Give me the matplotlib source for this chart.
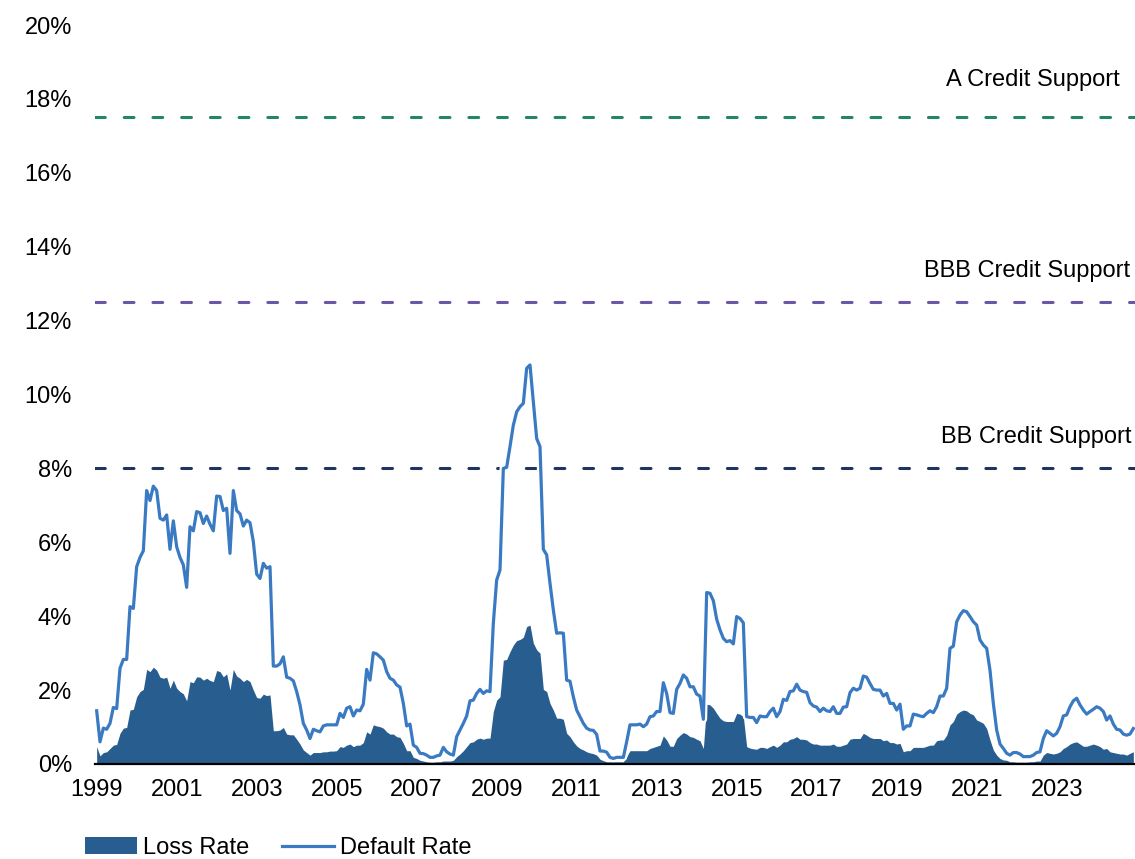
import numpy as np
import matplotlib
matplotlib.use('Agg')
import matplotlib.pyplot as plt
import matplotlib.patheffects as pe

plt.rcParams['font.family'] = ['Liberation Sans', 'DejaVu Sans']

# DATA #

# monthly rates in %, Jan 1999 .. Dec 2024, one row per year
DefaultRate = [
    1.44, 0.60, 0.97, 0.94, 1.10, 1.53, 1.50, 2.59, 2.83, 2.83, 4.26, 4.21,
    5.34, 5.59, 5.77, 7.40, 7.13, 7.52, 7.40, 6.65, 6.60, 6.74, 5.81, 6.58,
    5.88, 5.59, 5.39, 4.78, 6.42, 6.31, 6.83, 6.80, 6.51, 6.71, 6.49, 6.31,
    7.25, 7.24, 6.86, 6.92, 5.70, 7.40, 6.86, 6.77, 6.44, 6.60, 6.53, 6.02,
    5.14, 5.02, 5.43, 5.30, 5.34, 2.65, 2.65, 2.71, 2.90, 2.35, 2.32, 2.25,
    1.96, 1.60, 1.10, 0.92, 0.69, 0.94, 0.90, 0.87, 1.03, 1.06, 1.06, 1.06,
    1.06, 1.37, 1.26, 1.51, 1.55, 1.30, 1.46, 1.44, 1.62, 2.56, 2.27, 3.01,
    2.98, 2.90, 2.81, 2.50, 2.32, 2.27, 2.14, 2.08, 1.64, 1.03, 1.08, 0.51,
    0.45, 0.29, 0.28, 0.24, 0.18, 0.18, 0.22, 0.24, 0.45, 0.33, 0.27, 0.24,
    0.74, 0.92, 1.10, 1.30, 1.71, 1.73, 1.91, 2.02, 1.91, 1.98, 1.96, 3.81,
    4.98, 5.25, 8.00, 8.03, 8.59, 9.17, 9.53, 9.67, 9.76, 10.71, 10.80, 9.81,
    8.81, 8.59, 5.81, 5.66, 4.89, 4.17, 3.54, 3.55, 3.54, 2.27, 2.24, 1.82,
    1.46, 1.28, 1.10, 0.97, 0.92, 0.91, 0.80, 0.35, 0.35, 0.32, 0.18, 0.15,
    0.18, 0.18, 0.18, 0.60, 1.06, 1.06, 1.06, 1.08, 1.01, 1.08, 1.28, 1.30,
    1.42, 1.42, 2.20, 1.91, 1.39, 1.37, 2.02, 2.18, 2.41, 2.32, 2.09, 2.09,
    1.89, 1.84, 1.21, 4.64, 4.62, 4.42, 3.92, 3.63, 3.40, 3.31, 3.34, 3.25,
    3.99, 3.94, 3.82, 1.28, 1.26, 1.26, 1.12, 1.30, 1.28, 1.28, 1.42, 1.51,
    1.28, 1.42, 1.75, 1.72, 1.96, 1.98, 2.16, 2.00, 1.96, 1.94, 1.66, 1.57,
    1.54, 1.42, 1.51, 1.44, 1.42, 1.55, 1.37, 1.37, 1.54, 1.55, 1.93, 2.05,
    2.00, 2.05, 2.38, 2.35, 2.18, 2.02, 2.00, 2.00, 1.84, 1.91, 1.64, 1.64,
    1.46, 1.62, 0.94, 1.03, 1.03, 1.35, 1.33, 1.30, 1.28, 1.37, 1.44, 1.39,
    1.55, 1.84, 1.84, 2.05, 3.13, 3.19, 3.85, 4.03, 4.15, 4.12, 3.99, 3.85,
    3.76, 3.36, 3.22, 3.13, 2.54, 1.64, 0.92, 0.54, 0.42, 0.29, 0.24, 0.31,
    0.31, 0.27, 0.20, 0.20, 0.20, 0.24, 0.31, 0.33, 0.69, 0.90, 0.83, 0.76,
    0.83, 1.01, 1.30, 1.33, 1.55, 1.71, 1.78, 1.60, 1.46, 1.35, 1.42, 1.48,
    1.55, 1.51, 1.42, 1.19, 1.30, 1.08, 0.94, 0.92, 0.81, 0.78, 0.81, 0.96,
]

LossRate = [
    0.47, 0.22, 0.31, 0.33, 0.42, 0.51, 0.53, 0.83, 0.97, 0.99, 1.46, 1.48,
    1.82, 1.96, 2.02, 2.56, 2.50, 2.62, 2.54, 2.35, 2.32, 2.35, 2.05, 2.27,
    2.05, 1.96, 1.90, 1.71, 2.23, 2.20, 2.36, 2.35, 2.27, 2.32, 2.26, 2.23,
    2.53, 2.50, 2.36, 2.44, 2.00, 2.56, 2.38, 2.32, 2.23, 2.29, 2.23, 2.00,
    1.80, 1.78, 1.89, 1.85, 1.87, 0.90, 0.90, 0.92, 0.99, 0.81, 0.79, 0.79,
    0.67, 0.54, 0.38, 0.31, 0.24, 0.31, 0.31, 0.31, 0.33, 0.33, 0.35, 0.35,
    0.36, 0.47, 0.45, 0.51, 0.54, 0.47, 0.51, 0.51, 0.58, 0.87, 0.81, 1.06,
    1.03, 1.01, 0.97, 0.87, 0.81, 0.81, 0.74, 0.72, 0.56, 0.36, 0.36, 0.18,
    0.15, 0.10, 0.08, 0.06, 0.05, 0.05, 0.06, 0.06, 0.08, 0.08, 0.08, 0.10,
    0.20, 0.27, 0.36, 0.47, 0.58, 0.60, 0.67, 0.70, 0.67, 0.70, 0.70, 1.42,
    1.73, 1.82, 2.81, 2.83, 3.04, 3.22, 3.34, 3.37, 3.43, 3.72, 3.76, 3.27,
    3.09, 3.00, 2.02, 1.96, 1.64, 1.46, 1.24, 1.24, 1.21, 0.83, 0.74, 0.60,
    0.49, 0.42, 0.38, 0.33, 0.30, 0.28, 0.24, 0.13, 0.09, 0.06, 0.06, 0.06,
    0.06, 0.06, 0.06, 0.20, 0.36, 0.36, 0.36, 0.36, 0.36, 0.36, 0.42, 0.45,
    0.48, 0.51, 0.76, 0.65, 0.48, 0.48, 0.69, 0.78, 0.85, 0.81, 0.74, 0.72,
    0.67, 0.63, 0.42, 1.62, 1.60, 1.51, 1.37, 1.24, 1.17, 1.15, 1.15, 1.15,
    1.37, 1.35, 1.28, 0.47, 0.43, 0.41, 0.40, 0.45, 0.45, 0.42, 0.47, 0.51,
    0.45, 0.51, 0.60, 0.60, 0.67, 0.69, 0.74, 0.67, 0.67, 0.65, 0.58, 0.54,
    0.54, 0.51, 0.51, 0.51, 0.51, 0.54, 0.48, 0.48, 0.51, 0.54, 0.67, 0.69,
    0.69, 0.69, 0.83, 0.78, 0.72, 0.69, 0.69, 0.69, 0.63, 0.65, 0.58, 0.58,
    0.54, 0.56, 0.33, 0.36, 0.36, 0.45, 0.45, 0.45, 0.45, 0.48, 0.51, 0.51,
    0.63, 0.65, 0.65, 0.78, 1.06, 1.15, 1.35, 1.42, 1.46, 1.44, 1.37, 1.33,
    1.19, 1.15, 1.10, 0.96, 0.65, 0.38, 0.24, 0.15, 0.11, 0.10, 0.06, 0.06,
    0.05, 0.05, 0.05, 0.05, 0.06, 0.06, 0.08, 0.08, 0.24, 0.31, 0.29, 0.27,
    0.29, 0.33, 0.42, 0.47, 0.54, 0.58, 0.60, 0.54, 0.48, 0.48, 0.51, 0.54,
    0.51, 0.47, 0.40, 0.42, 0.33, 0.31, 0.29, 0.27, 0.27, 0.24, 0.29, 0.33,
]

TickYears = list(range(1999, 2024, 2))

SupportLevels = [17.5, 12.5, 8.0]
SupportNames = ['A Credit Support', 'BBB Credit Support', 'BB Credit Support']

# STYLE #

FontSize = 17
LossColor = '#285D8F'
DefaultColor = '#3A7AC2'
SupportColors = ['#21866A', '#6B57A6', '#1F355E']
# label anchors (month index of right edge, value of text centre)
SupportLabelPos = [(307.0, 18.5), (310.0, 13.35), (310.5, 8.85)]

Months = np.arange(len(DefaultRate))

# FIGURE #

fig = plt.figure(figsize=(11.35, 8.59), dpi=100)
ax = fig.add_axes([95/1135, 95/859, 1 - 95/1135, (764 - 25)/859])

ax.fill_between(Months, 0, LossRate, color=LossColor, lw=0, label='Loss Rate', zorder=2)
ax.plot(Months, DefaultRate, color=DefaultColor, lw=2.3, label='Default Rate', zorder=3,
        path_effects=[pe.Stroke(linewidth=5.5, foreground='white'), pe.Normal()])

for level, name, color, (lx, ly) in zip(SupportLevels, SupportNames, SupportColors, SupportLabelPos):
    ax.axhline(level, color=color, lw=2.2, ls=(0, (3.2, 6.2)), dash_capstyle='round', zorder=1)
    ax.text(lx, ly, name, ha='right', va='center', fontsize=FontSize, color='black')

ax.set_xlim(-0.5, len(DefaultRate) - 0.5)
ax.set_ylim(0, 20)

ax.set_xticks(Months[::24][:len(TickYears)])
ax.set_xticklabels([str(y) for y in TickYears], fontsize=FontSize)
ax.set_yticks(np.arange(0, 21, 2))
ax.set_yticklabels([f'{v}%' for v in range(0, 21, 2)], fontsize=FontSize)
ax.tick_params(axis='x', length=0, pad=10.5)
ax.tick_params(axis='y', length=0, pad=16.5)

for side in ('top', 'right', 'left'):
    ax.spines[side].set_visible(False)
ax.spines['bottom'].set_color('black')
ax.spines['bottom'].set_linewidth(1.6)
ax.spines['bottom'].set_zorder(4)

fig.legend(loc='lower left', bbox_to_anchor=(85/1135, 0.0), ncol=2, frameon=False,
           fontsize=FontSize, handlelength=2.2, handletextpad=0.25, columnspacing=1.4,
           borderpad=0, borderaxespad=0)

fig.savefig('out.png', dpi=100)
